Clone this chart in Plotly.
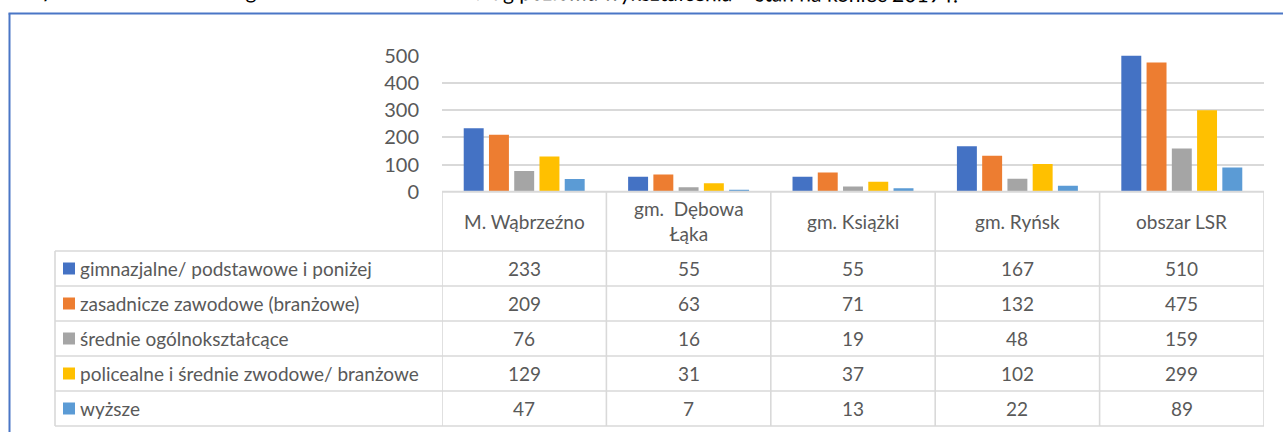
import plotly.graph_objects as go

# --- data -------------------------------------------------------------
gminy = ["M. Wąbrzeźno", "gm.\u00a0 Dębowa<br>Łąka", "gm. Książki", "gm. Ryńsk", "obszar LSR"]
series_names = [
    "gimnazjalne/ podstawowe i poniżej",
    "zasadnicze zawodowe (branżowe)",
    "średnie ogólnokształcące",
    "policealne i średnie zwodowe/ branżowe",
    "wyższe",
]
gimnazjalne = [233, 55, 55, 167, 510]
zasadnicze = [209, 63, 71, 132, 475]
srednie_ogolne = [76, 16, 19, 48, 159]
policealne = [129, 31, 37, 102, 299]
wyzsze = [47, 7, 13, 22, 89]
y_ticks = [0, 100, 200, 300, 400, 500]

series_values = [gimnazjalne, zasadnicze, srednie_ogolne, policealne, wyzsze]
colors = ["#4472C4", "#ED7D31", "#A5A5A5", "#FFC000", "#5B9BD5"]

# --- page geometry (pixels) --------------------------------------------
W, H = 1283, 432
PLOT_L, PLOT_R = 442, 1264
PLOT_T, PLOT_B = 55.7, 191.7
HEADER_B = 251.0
ROW_H = 35.0
TABLE_L = 55.0
GRID = "#D9D9D9"
TXT = "#595959"
FONT = "Lato"


def px(x):
    return x / W


def py(y):
    return 1 - y / H


fig = go.Figure()
cat_idx = list(range(len(gminy)))
for name, vals, col in zip(series_names, series_values, colors):
    fig.add_trace(go.Bar(x=cat_idx, y=vals, name=name, marker_color=col,
                         marker_line_width=0, showlegend=False))

shapes = []
annotations = []

# outer frame
shapes.append(dict(type="line", xref="paper", yref="paper", x0=px(8.5), x1=px(W + 5),
                   y0=py(13.5), y1=py(13.5), line=dict(color="#4A76C6", width=2)))
shapes.append(dict(type="line", xref="paper", yref="paper", x0=px(9.5), x1=px(9.5),
                   y0=py(13.5), y1=py(H + 5), line=dict(color="#4A76C6", width=2)))

# table: horizontal rules
shapes.append(dict(type="line", xref="paper", yref="paper", x0=px(PLOT_L), x1=px(PLOT_R),
                   y0=py(PLOT_B), y1=py(PLOT_B), line=dict(color=GRID, width=2)))
n_rows = len(series_names)
for r in range(n_rows + 1):
    yy = HEADER_B + r * ROW_H
    shapes.append(dict(type="line", xref="paper", yref="paper", x0=px(TABLE_L), x1=px(PLOT_R),
                       y0=py(yy), y1=py(yy), line=dict(color=GRID, width=1.6)))
table_bottom = HEADER_B + n_rows * ROW_H
# table: vertical rules
shapes.append(dict(type="line", xref="paper", yref="paper", x0=px(TABLE_L), x1=px(TABLE_L),
                   y0=py(HEADER_B), y1=py(table_bottom), line=dict(color=GRID, width=1.6)))
for k in range(len(gminy) + 1):
    shapes.append(dict(type="line", xref="x", yref="paper", x0=k - 0.5, x1=k - 0.5,
                       y0=py(PLOT_B), y1=py(table_bottom), line=dict(color=GRID, width=1.6)))

# header: category names
for i, g in enumerate(gminy):
    annotations.append(dict(x=i, xref="x", y=py((PLOT_B + HEADER_B) / 2), yref="paper",
                            text=g, showarrow=False, xanchor="center", yanchor="middle",
                            font=dict(family=FONT, size=19, color=TXT)))

# rows: legend key + values
for r, (name, vals, col) in enumerate(zip(series_names, series_values, colors)):
    yc = HEADER_B + r * ROW_H + ROW_H / 2
    shapes.append(dict(type="rect", xref="paper", yref="paper", x0=px(63), x1=px(75),
                       y0=py(yc - 6), y1=py(yc + 6), fillcolor=col, line=dict(width=0)))
    annotations.append(dict(x=px(78), xref="paper", y=py(yc), yref="paper", text=name,
                            showarrow=False, xanchor="left", yanchor="middle",
                            font=dict(family=FONT, size=19, color=TXT)))
    for i, v in enumerate(vals):
        annotations.append(dict(x=i, xref="x", y=py(yc), yref="paper", text=str(v),
                                showarrow=False, xanchor="center", yanchor="middle",
                                font=dict(family=FONT, size=19, color=TXT)))

# title line above the frame (only its lower edge falls inside the page)
annotations.append(dict(x=px(18), xref="paper", y=py(8.5), yref="paper",
                        text="Wykres 6. Bezrobotni w gminach obszaru LSR według poziomu wykształcenia – stan na koniec 2019 r.",
                        showarrow=False, xanchor="left", yanchor="bottom", textangle=0.3,
                        font=dict(family=FONT, size=21, color="#000000")))

fig.update_layout(
    width=W, height=H,
    margin=dict(l=0, r=0, t=0, b=0, autoexpand=False),
    paper_bgcolor="white", plot_bgcolor="white",
    barmode="group", bargap=0.232, bargroupgap=0.21,
    xaxis=dict(domain=[px(PLOT_L), px(PLOT_R)], range=[-0.5, len(gminy) - 0.5],
               showticklabels=False, showgrid=False, zeroline=False, showline=False,
               ticks="", automargin=False),
    yaxis=dict(domain=[py(PLOT_B), py(PLOT_T)], range=[0, 500], tickvals=y_ticks,
               showgrid=True, gridcolor=GRID, gridwidth=1.6, zeroline=False,
               showline=False, ticks="", ticklabelstandoff=22, automargin=False,
               tickfont=dict(family=FONT, size=20, color=TXT)),
    shapes=shapes,
    annotations=annotations,
)

fig.write_html("out.html")
